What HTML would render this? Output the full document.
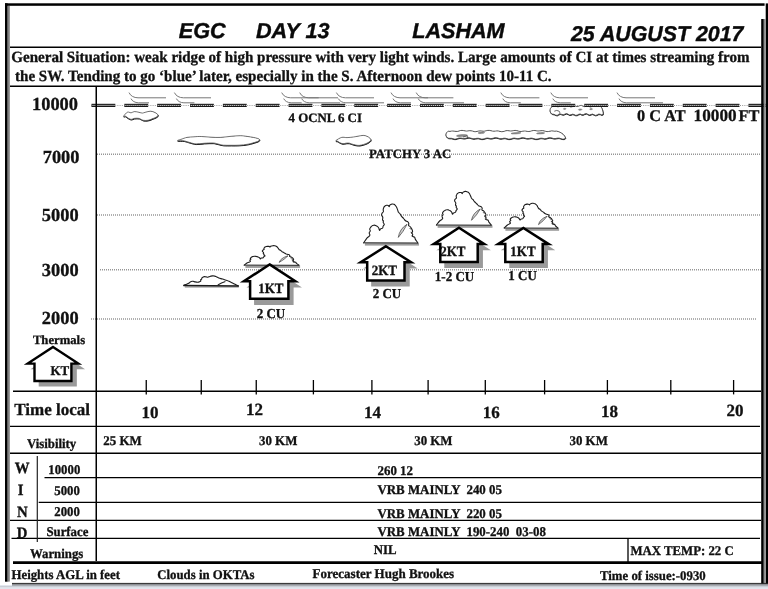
<!DOCTYPE html>
<html><head><meta charset="utf-8"><title>EGC Day 13 Lasham</title>
<style>
html,body{margin:0;padding:0;background:#fff;}
body{width:768px;height:589px;overflow:hidden;}
svg{display:block;}
text{text-rendering:geometricPrecision;}
.s{font-family:"Liberation Serif", serif;font-weight:bold;fill:#111;stroke:#111;stroke-width:0.3;}
.t{font-family:"Liberation Sans", sans-serif;font-weight:bold;font-style:italic;fill:#0a0a0a;stroke:#0a0a0a;stroke-width:0.4;}
.ci{fill:none;stroke:#777;stroke-width:1;}
.blob{fill:#fff;stroke:#222;stroke-width:1;stroke-linejoin:round;}
.blob2{fill:#fff;stroke:#333;stroke-width:0.9;stroke-linejoin:round;}
</style></head><body>
<svg width="768" height="589" viewBox="0 0 768 589">
<rect x="0" y="585" width="768" height="4" fill="#e2e6ee"/>
<line x1="97" y1="154.2" x2="761" y2="154.2" stroke="#969696" stroke-width="1.5" stroke-dasharray="1 1"/>
<line x1="97" y1="214.9" x2="761" y2="214.9" stroke="#969696" stroke-width="1.5" stroke-dasharray="1 1"/>
<line x1="100" y1="269.8" x2="761" y2="269.8" stroke="#969696" stroke-width="1.5" stroke-dasharray="1 1"/>
<line x1="91" y1="319" x2="757" y2="319" stroke="#969696" stroke-width="1.5" stroke-dasharray="1 1"/>
<path d="M129,92.6 C130.5,96 134,97.8 138,97.8 L166,97.8" class="ci"/>
<path d="M131,98.6 C132,101 135,102.8 138.5,102.8 L149,102.8" class="ci"/>
<path d="M174.4,92.6 C175.9,96 179.4,97.8 183.4,97.8 L211,97.8" class="ci"/>
<path d="M176.4,98.6 C177.4,101 180.4,102.8 183.9,102.8 L194.4,102.8" class="ci"/>
<path d="M281.7,92.6 C283.2,96 286.7,97.8 290.7,97.8 L318.7,97.8" class="ci"/>
<path d="M283.7,98.6 C284.7,101 287.7,102.8 291.2,102.8 L301.7,102.8" class="ci"/>
<path d="M299.7,92.6 C301.2,96 304.7,97.8 308.7,97.8 L338,97.8" class="ci"/>
<path d="M301.7,98.6 C302.7,101 305.7,102.8 309.2,102.8 L340,102.8" class="ci"/>
<path d="M336.4,92.6 C337.9,96 341.4,97.8 345.4,97.8 L374,97.8" class="ci"/>
<path d="M338.4,98.6 C339.4,101 342.4,102.8 345.9,102.8 L384,102.8" class="ci"/>
<path d="M391,92.6 C392.5,96 396,97.8 400,97.8 L428,97.8" class="ci"/>
<path d="M393,98.6 C394,101 397,102.8 400.5,102.8 L411,102.8" class="ci"/>
<path d="M416.2,92.6 C417.7,96 421.2,97.8 425.2,97.8 L453.4,97.8" class="ci"/>
<path d="M418.2,98.6 C419.2,101 422.2,102.8 425.7,102.8 L464,102.8" class="ci"/>
<path d="M500.8,92.6 C502.3,96 505.8,97.8 509.8,97.8 L539.4,97.8" class="ci"/>
<path d="M502.8,98.6 C503.8,101 506.8,102.8 510.3,102.8 L520.8,102.8" class="ci"/>
<path d="M550.8,92.6 C552.3,96 555.8,97.8 559.8,97.8 L588,97.8" class="ci"/>
<path d="M552.8,98.6 C553.8,101 556.8,102.8 560.3,102.8 L570.8,102.8" class="ci"/>
<path d="M617,92.6 C618.5,96 622,97.8 626,97.8 L655,97.8" class="ci"/>
<path d="M619,98.6 C620,101 623,102.8 626.5,102.8 L663,102.8" class="ci"/>
<path d="M123.6,116.2 C123.9,115.5 126.1,112.8 127.4,112.2 C128.8,111.6 129.9,112.9 131.1,112.8 C132.3,112.7 132.9,111.7 134.2,111.6 C135.6,111.5 137.1,111.9 138.6,112.2 C140.1,112.5 141.2,113.1 142.4,113.1 C143.6,113.1 144.0,112.5 145.5,112.2 C147.0,111.9 148.8,111.2 150.5,111.2 C152.2,111.3 153.6,111.8 154.9,112.5 C156.2,113.2 157.8,114.2 158.0,115.0 C158.2,115.8 157.2,116.5 156.1,117.2 C155.0,117.9 153.2,118.4 151.8,119.0 C150.3,119.6 149.6,120.1 148.0,120.3 C146.4,120.5 144.6,120.6 143.0,120.3 C141.4,120.0 140.8,118.7 139.2,118.4 C137.7,118.1 135.7,118.2 134.2,118.4 C132.8,118.6 132.2,119.5 131.1,119.4 C130.0,119.3 129.0,118.7 128.0,118.1 C127.0,117.5 126.3,116.6 125.5,116.2 C124.7,115.9 123.3,117.0 123.6,116.2 Z" fill="#111" stroke="#111" stroke-width="1" transform="translate(0.3,0.65)"/>
<path d="M123.6,116.2 C123.9,115.5 126.1,112.8 127.4,112.2 C128.8,111.6 129.9,112.9 131.1,112.8 C132.3,112.7 132.9,111.7 134.2,111.6 C135.6,111.5 137.1,111.9 138.6,112.2 C140.1,112.5 141.2,113.1 142.4,113.1 C143.6,113.1 144.0,112.5 145.5,112.2 C147.0,111.9 148.8,111.2 150.5,111.2 C152.2,111.3 153.6,111.8 154.9,112.5 C156.2,113.2 157.8,114.2 158.0,115.0 C158.2,115.8 157.2,116.5 156.1,117.2 C155.0,117.9 153.2,118.4 151.8,119.0 C150.3,119.6 149.6,120.1 148.0,120.3 C146.4,120.5 144.6,120.6 143.0,120.3 C141.4,120.0 140.8,118.7 139.2,118.4 C137.7,118.1 135.7,118.2 134.2,118.4 C132.8,118.6 132.2,119.5 131.1,119.4 C130.0,119.3 129.0,118.7 128.0,118.1 C127.0,117.5 126.3,116.6 125.5,116.2 C124.7,115.9 123.3,117.0 123.6,116.2 Z" fill="#fff" stroke="#555" stroke-width="0.8" stroke-linejoin="round"/>
<path d="M335.9,140.6 C336.6,139.9 339.7,137.9 341.7,137.4 C343.7,136.9 344.9,137.7 347.0,137.6 C349.1,137.5 351.4,137.3 353.4,137.0 C355.4,136.7 356.2,136.5 358.0,136.2 C359.8,135.9 361.6,135.4 363.2,135.4 C364.8,135.4 365.8,135.8 367.0,136.3 C368.2,136.8 369.0,137.3 369.7,138.0 C370.4,138.7 371.0,139.4 370.8,140.2 C370.6,141.0 369.6,141.6 368.6,142.3 C367.6,143.0 366.5,143.4 365.2,143.9 C363.9,144.4 362.8,144.7 361.5,145.0 C360.2,145.3 359.4,145.5 358.0,145.4 C356.6,145.3 355.0,145.0 353.5,144.6 C352.0,144.2 350.9,143.5 349.5,143.2 C348.1,142.9 347.2,143.1 346.0,143.2 C344.8,143.3 344.1,143.8 343.0,143.7 C341.9,143.6 340.9,143.2 340.0,142.8 C339.1,142.4 338.5,141.7 337.8,141.3 C337.1,140.9 335.2,141.3 335.9,140.6 Z" fill="#111" stroke="#111" stroke-width="1" transform="translate(0.3,0.65)"/>
<path d="M335.9,140.6 C336.6,139.9 339.7,137.9 341.7,137.4 C343.7,136.9 344.9,137.7 347.0,137.6 C349.1,137.5 351.4,137.3 353.4,137.0 C355.4,136.7 356.2,136.5 358.0,136.2 C359.8,135.9 361.6,135.4 363.2,135.4 C364.8,135.4 365.8,135.8 367.0,136.3 C368.2,136.8 369.0,137.3 369.7,138.0 C370.4,138.7 371.0,139.4 370.8,140.2 C370.6,141.0 369.6,141.6 368.6,142.3 C367.6,143.0 366.5,143.4 365.2,143.9 C363.9,144.4 362.8,144.7 361.5,145.0 C360.2,145.3 359.4,145.5 358.0,145.4 C356.6,145.3 355.0,145.0 353.5,144.6 C352.0,144.2 350.9,143.5 349.5,143.2 C348.1,142.9 347.2,143.1 346.0,143.2 C344.8,143.3 344.1,143.8 343.0,143.7 C341.9,143.6 340.9,143.2 340.0,142.8 C339.1,142.4 338.5,141.7 337.8,141.3 C337.1,140.9 335.2,141.3 335.9,140.6 Z" fill="#fff" stroke="#555" stroke-width="0.8" stroke-linejoin="round"/>
<path d="M177.5,140.6 C177.1,140.3 180.3,139.6 182.0,139.0 C183.7,138.4 184.8,137.8 187.0,137.4 C189.2,137.0 191.4,137.0 194.0,136.8 C196.6,136.6 198.2,136.4 201.3,136.5 C204.4,136.6 207.5,137.0 211.0,137.2 C214.5,137.4 217.2,137.6 220.8,137.4 C224.4,137.2 227.5,136.6 231.0,136.3 C234.5,136.0 237.4,135.7 240.3,135.7 C243.2,135.7 244.7,136.1 247.0,136.4 C249.3,136.7 251.4,137.0 253.3,137.4 C255.2,137.8 256.4,138.0 257.5,138.4 C258.6,138.8 259.4,139.1 259.6,139.6 C259.8,140.1 259.0,140.6 258.4,141.0 C257.8,141.4 257.9,141.4 256.0,142.0 C254.1,142.6 251.1,143.6 248.0,144.2 C244.9,144.8 242.1,145.0 239.0,145.2 C235.9,145.4 233.8,145.3 231.0,145.3 C228.2,145.3 225.7,145.4 223.4,145.2 C221.1,145.0 219.9,144.4 218.0,144.0 C216.1,143.6 215.5,143.1 213.0,143.0 C210.5,142.9 207.1,143.1 204.0,143.3 C200.9,143.5 198.5,144.0 196.0,143.9 C193.5,143.8 192.1,143.1 190.0,142.6 C187.9,142.1 186.6,141.3 184.3,140.9 C182.1,140.5 177.9,140.9 177.5,140.6 Z" fill="#111" stroke="#111" stroke-width="1" transform="translate(0.3,0.65)"/>
<path d="M177.5,140.6 C177.1,140.3 180.3,139.6 182.0,139.0 C183.7,138.4 184.8,137.8 187.0,137.4 C189.2,137.0 191.4,137.0 194.0,136.8 C196.6,136.6 198.2,136.4 201.3,136.5 C204.4,136.6 207.5,137.0 211.0,137.2 C214.5,137.4 217.2,137.6 220.8,137.4 C224.4,137.2 227.5,136.6 231.0,136.3 C234.5,136.0 237.4,135.7 240.3,135.7 C243.2,135.7 244.7,136.1 247.0,136.4 C249.3,136.7 251.4,137.0 253.3,137.4 C255.2,137.8 256.4,138.0 257.5,138.4 C258.6,138.8 259.4,139.1 259.6,139.6 C259.8,140.1 259.0,140.6 258.4,141.0 C257.8,141.4 257.9,141.4 256.0,142.0 C254.1,142.6 251.1,143.6 248.0,144.2 C244.9,144.8 242.1,145.0 239.0,145.2 C235.9,145.4 233.8,145.3 231.0,145.3 C228.2,145.3 225.7,145.4 223.4,145.2 C221.1,145.0 219.9,144.4 218.0,144.0 C216.1,143.6 215.5,143.1 213.0,143.0 C210.5,142.9 207.1,143.1 204.0,143.3 C200.9,143.5 198.5,144.0 196.0,143.9 C193.5,143.8 192.1,143.1 190.0,142.6 C187.9,142.1 186.6,141.3 184.3,140.9 C182.1,140.5 177.9,140.9 177.5,140.6 Z" fill="#fff" stroke="#555" stroke-width="0.8" stroke-linejoin="round"/>
<path d="M449.9,131.4 L451.4,131.1 L452.9,131.0 L454.5,131.2 L456.0,131.4 L457.5,131.4 L459.0,131.0 L460.5,130.5 L462.0,130.4 L463.6,130.6 L465.1,130.9 L466.6,131.1 L468.1,130.9 L469.6,130.7 L471.1,130.8 L472.7,131.1 L474.2,131.6 L475.7,131.7 L477.2,131.4 L478.7,131.0 L480.2,130.9 L481.8,131.0 L483.3,131.2 L484.8,131.1 L486.3,130.7 L487.8,130.4 L489.4,130.4 L490.9,130.7 L492.4,131.1 L493.9,131.2 L495.4,131.1 L496.9,130.9 L498.5,131.0 L500.0,131.4 L501.5,131.7 L503.0,131.6 L504.5,131.2 L506.0,130.7 L507.6,130.6 L509.1,130.8 L510.6,131.0 L512.1,130.9 L513.6,130.6 L515.1,130.4 L516.7,130.6 L518.2,131.0 L519.7,131.4 L521.2,131.5 L522.7,131.2 L524.3,131.0 L525.8,131.1 L527.3,131.4 L528.8,131.5 L530.3,131.3 L531.8,130.8 L533.4,130.5 L534.9,130.5 L536.4,130.8 L537.9,131.0 L539.4,130.9 L540.9,130.7 L542.5,130.6 L544.0,130.9 L545.5,131.3 L547.0,131.6 L548.5,131.5 L550.0,131.2 L551.6,130.9 L553.1,131.0 L554.6,131.2 L556.5,131.1 L558.4,131.6 L560.1,132.3 L561.7,133.2 L563.0,134.2 L564.1,135.4 L564.9,136.6 L565.4,137.6 L565.6,138.1 L564.1,139.1 L562.6,139.1 L561.1,138.7 L559.6,138.2 L558.1,138.1 L556.6,138.3 L555.1,138.6 L553.6,138.5 L552.1,138.1 L550.6,137.7 L549.1,137.7 L547.6,138.1 L546.1,138.6 L544.6,138.7 L543.1,138.4 L541.6,138.2 L540.1,138.3 L538.6,138.7 L537.1,139.1 L535.5,139.1 L534.0,138.7 L532.5,138.3 L531.0,138.1 L529.5,138.4 L528.0,138.6 L526.5,138.5 L525.0,138.1 L523.5,137.7 L522.0,137.7 L520.5,138.1 L519.0,138.5 L517.5,138.6 L516.0,138.4 L514.5,138.1 L513.0,138.2 L511.5,138.7 L510.0,139.1 L508.5,139.1 L507.0,138.7 L505.5,138.3 L504.0,138.2 L502.5,138.5 L501.0,138.7 L499.5,138.6 L498.0,138.1 L496.5,137.7 L495.0,137.7 L493.5,138.1 L492.0,138.5 L490.5,138.6 L489.0,138.3 L487.5,138.0 L486.0,138.2 L484.5,138.7 L483.0,139.1 L481.5,139.1 L480.0,138.7 L478.4,138.3 L476.9,138.3 L475.4,138.6 L473.9,138.8 L472.4,138.6 L470.9,138.2 L469.4,137.7 L467.9,137.7 L466.4,138.1 L464.9,138.5 L463.4,138.5 L461.9,138.2 L460.4,138.0 L458.9,138.1 L457.4,138.6 L455.9,139.1 L454.4,139.1 L452.9,138.7 L451.4,138.3 L449.9,138.3 L448.5,138.2 L447.3,137.5 L446.4,136.5 L446.0,135.3 L446.0,134.1 L446.4,132.8 L447.3,131.9 L448.5,131.2 Z" fill="#111" stroke="#111" stroke-width="0.9" transform="translate(0.2,0.5)" stroke-linejoin="round"/>
<path d="M449.9,131.4 L451.4,131.1 L452.9,131.0 L454.5,131.2 L456.0,131.4 L457.5,131.4 L459.0,131.0 L460.5,130.5 L462.0,130.4 L463.6,130.6 L465.1,130.9 L466.6,131.1 L468.1,130.9 L469.6,130.7 L471.1,130.8 L472.7,131.1 L474.2,131.6 L475.7,131.7 L477.2,131.4 L478.7,131.0 L480.2,130.9 L481.8,131.0 L483.3,131.2 L484.8,131.1 L486.3,130.7 L487.8,130.4 L489.4,130.4 L490.9,130.7 L492.4,131.1 L493.9,131.2 L495.4,131.1 L496.9,130.9 L498.5,131.0 L500.0,131.4 L501.5,131.7 L503.0,131.6 L504.5,131.2 L506.0,130.7 L507.6,130.6 L509.1,130.8 L510.6,131.0 L512.1,130.9 L513.6,130.6 L515.1,130.4 L516.7,130.6 L518.2,131.0 L519.7,131.4 L521.2,131.5 L522.7,131.2 L524.3,131.0 L525.8,131.1 L527.3,131.4 L528.8,131.5 L530.3,131.3 L531.8,130.8 L533.4,130.5 L534.9,130.5 L536.4,130.8 L537.9,131.0 L539.4,130.9 L540.9,130.7 L542.5,130.6 L544.0,130.9 L545.5,131.3 L547.0,131.6 L548.5,131.5 L550.0,131.2 L551.6,130.9 L553.1,131.0 L554.6,131.2 L556.5,131.1 L558.4,131.6 L560.1,132.3 L561.7,133.2 L563.0,134.2 L564.1,135.4 L564.9,136.6 L565.4,137.6 L565.6,138.1 L564.1,139.1 L562.6,139.1 L561.1,138.7 L559.6,138.2 L558.1,138.1 L556.6,138.3 L555.1,138.6 L553.6,138.5 L552.1,138.1 L550.6,137.7 L549.1,137.7 L547.6,138.1 L546.1,138.6 L544.6,138.7 L543.1,138.4 L541.6,138.2 L540.1,138.3 L538.6,138.7 L537.1,139.1 L535.5,139.1 L534.0,138.7 L532.5,138.3 L531.0,138.1 L529.5,138.4 L528.0,138.6 L526.5,138.5 L525.0,138.1 L523.5,137.7 L522.0,137.7 L520.5,138.1 L519.0,138.5 L517.5,138.6 L516.0,138.4 L514.5,138.1 L513.0,138.2 L511.5,138.7 L510.0,139.1 L508.5,139.1 L507.0,138.7 L505.5,138.3 L504.0,138.2 L502.5,138.5 L501.0,138.7 L499.5,138.6 L498.0,138.1 L496.5,137.7 L495.0,137.7 L493.5,138.1 L492.0,138.5 L490.5,138.6 L489.0,138.3 L487.5,138.0 L486.0,138.2 L484.5,138.7 L483.0,139.1 L481.5,139.1 L480.0,138.7 L478.4,138.3 L476.9,138.3 L475.4,138.6 L473.9,138.8 L472.4,138.6 L470.9,138.2 L469.4,137.7 L467.9,137.7 L466.4,138.1 L464.9,138.5 L463.4,138.5 L461.9,138.2 L460.4,138.0 L458.9,138.1 L457.4,138.6 L455.9,139.1 L454.4,139.1 L452.9,138.7 L451.4,138.3 L449.9,138.3 L448.5,138.2 L447.3,137.5 L446.4,136.5 L446.0,135.3 L446.0,134.1 L446.4,132.8 L447.3,131.9 L448.5,131.2 Z" fill="#fff" stroke="#444" stroke-width="0.85" stroke-linejoin="round"/>
<ellipse cx="461.9" cy="135.6" rx="5.5" ry="1.0" fill="#8a8a8a" stroke="#666" stroke-width="0.4" transform="rotate(-4 461.9 135.6)"/>
<ellipse cx="481.4" cy="132.8" rx="3.3" ry="0.8" fill="#8a8a8a" stroke="#666" stroke-width="0.4" transform="rotate(-4 481.4 132.8)"/>
<ellipse cx="516.0" cy="133.2" rx="5.0" ry="0.8" fill="#8a8a8a" stroke="#666" stroke-width="0.4" transform="rotate(-4 516.0 133.2)"/>
<ellipse cx="540.6" cy="133.2" rx="4.1" ry="0.8" fill="#8a8a8a" stroke="#666" stroke-width="0.4" transform="rotate(-4 540.6 133.2)"/>
<path d="M463,137 q3,-0.5 4.3,-1.3 q1.2,1.2 -0.5,2.6" fill="none" stroke="#444" stroke-width="0.8"/>
<path d="M554.0,106.2 L555.5,106.1 L557.1,106.7 L558.6,106.7 L560.1,105.9 L561.6,105.4 L563.2,105.9 L564.7,106.4 L566.2,106.1 L567.7,105.7 L569.3,106.3 L570.8,107.0 L572.3,106.7 L573.8,106.0 L575.4,106.0 L576.9,106.5 L578.4,106.3 L580.0,105.5 L581.5,105.4 L583.0,106.2 L584.5,106.6 L586.1,106.2 L587.6,106.0 L589.1,106.6 L590.6,107.0 L592.2,106.4 L593.7,105.7 L595.2,105.9 L596.7,106.4 L598.3,106.1 L599.8,105.5 L600.4,106.4 L601.0,106.8 L601.5,107.6 L602.0,108.6 L602.5,109.8 L602.8,111.1 L603.1,112.4 L603.2,113.6 L603.3,114.2 L601.8,114.9 L600.3,114.3 L598.7,114.1 L597.2,114.9 L595.6,115.4 L594.1,114.8 L592.5,114.1 L591.0,114.5 L589.5,115.0 L587.9,114.4 L586.4,113.6 L584.8,113.9 L583.3,114.7 L581.8,114.7 L580.2,114.0 L578.7,114.3 L577.1,115.2 L575.6,115.3 L574.0,114.5 L572.5,114.2 L571.0,114.8 L569.4,115.0 L567.9,114.1 L566.3,113.6 L564.8,114.2 L563.3,114.8 L561.7,114.4 L560.2,113.9 L558.6,114.5 L557.1,115.4 L555.5,115.1 L554.0,114.3 L552.6,114.2 L551.4,113.5 L550.5,112.4 L550.1,111.1 L550.1,109.6 L550.5,108.3 L551.4,107.2 L552.6,106.5 Z" fill="#111" stroke="#111" stroke-width="0.9" transform="translate(0.2,0.5)" stroke-linejoin="round"/>
<path d="M554.0,106.2 L555.5,106.1 L557.1,106.7 L558.6,106.7 L560.1,105.9 L561.6,105.4 L563.2,105.9 L564.7,106.4 L566.2,106.1 L567.7,105.7 L569.3,106.3 L570.8,107.0 L572.3,106.7 L573.8,106.0 L575.4,106.0 L576.9,106.5 L578.4,106.3 L580.0,105.5 L581.5,105.4 L583.0,106.2 L584.5,106.6 L586.1,106.2 L587.6,106.0 L589.1,106.6 L590.6,107.0 L592.2,106.4 L593.7,105.7 L595.2,105.9 L596.7,106.4 L598.3,106.1 L599.8,105.5 L600.4,106.4 L601.0,106.8 L601.5,107.6 L602.0,108.6 L602.5,109.8 L602.8,111.1 L603.1,112.4 L603.2,113.6 L603.3,114.2 L601.8,114.9 L600.3,114.3 L598.7,114.1 L597.2,114.9 L595.6,115.4 L594.1,114.8 L592.5,114.1 L591.0,114.5 L589.5,115.0 L587.9,114.4 L586.4,113.6 L584.8,113.9 L583.3,114.7 L581.8,114.7 L580.2,114.0 L578.7,114.3 L577.1,115.2 L575.6,115.3 L574.0,114.5 L572.5,114.2 L571.0,114.8 L569.4,115.0 L567.9,114.1 L566.3,113.6 L564.8,114.2 L563.3,114.8 L561.7,114.4 L560.2,113.9 L558.6,114.5 L557.1,115.4 L555.5,115.1 L554.0,114.3 L552.6,114.2 L551.4,113.5 L550.5,112.4 L550.1,111.1 L550.1,109.6 L550.5,108.3 L551.4,107.2 L552.6,106.5 Z" fill="#fff" stroke="#444" stroke-width="0.85" stroke-linejoin="round"/>
<path d="M554.3,111.2 q2.4,-1.4 4.6,-0.2 q1.6,1.2 0.4,2.6" fill="none" stroke="#444" stroke-width="0.8"/>
<ellipse cx="564.7" cy="108.8" rx="1.3" ry="0.6" fill="#8a8a8a" stroke="#666" stroke-width="0.4" transform="rotate(-4 564.7 108.8)"/>
<ellipse cx="580.2" cy="109.6" rx="1.8" ry="0.7" fill="#8a8a8a" stroke="#666" stroke-width="0.4" transform="rotate(-4 580.2 109.6)"/>
<ellipse cx="591.1" cy="109.1" rx="1.5" ry="0.6" fill="#8a8a8a" stroke="#666" stroke-width="0.4" transform="rotate(-4 591.1 109.1)"/>
<line x1="91" y1="105.5" x2="768" y2="105.5" stroke="#999" stroke-width="1" stroke-dasharray="1 1.2"/>
<rect x="91.5" y="104" width="23.8" height="3.0" fill="#ddd"/>
<rect x="91.5" y="103.8" width="23.8" height="1.1" fill="#161616"/>
<rect x="91.5" y="105.9" width="23.8" height="1.1" fill="#161616"/>
<line x1="91.5" y1="105.45" x2="115.3" y2="105.45" stroke="#444" stroke-width="1.0" stroke-dasharray="1 1"/>
<rect x="124.35" y="104" width="23.8" height="3.0" fill="#ddd"/>
<rect x="124.35" y="103.8" width="23.8" height="1.1" fill="#161616"/>
<rect x="124.35" y="105.9" width="23.8" height="1.1" fill="#161616"/>
<line x1="124.35" y1="105.45" x2="148.15" y2="105.45" stroke="#444" stroke-width="1.0" stroke-dasharray="1 1"/>
<rect x="157.2" y="104" width="23.8" height="3.0" fill="#ddd"/>
<rect x="157.2" y="103.8" width="23.8" height="1.1" fill="#161616"/>
<rect x="157.2" y="105.9" width="23.8" height="1.1" fill="#161616"/>
<line x1="157.2" y1="105.45" x2="181.0" y2="105.45" stroke="#444" stroke-width="1.0" stroke-dasharray="1 1"/>
<rect x="190.05" y="104" width="23.8" height="3.0" fill="#ddd"/>
<rect x="190.05" y="103.8" width="23.8" height="1.1" fill="#161616"/>
<rect x="190.05" y="105.9" width="23.8" height="1.1" fill="#161616"/>
<line x1="190.05" y1="105.45" x2="213.85" y2="105.45" stroke="#444" stroke-width="1.0" stroke-dasharray="1 1"/>
<rect x="222.9" y="104" width="23.8" height="3.0" fill="#ddd"/>
<rect x="222.9" y="103.8" width="23.8" height="1.1" fill="#161616"/>
<rect x="222.9" y="105.9" width="23.8" height="1.1" fill="#161616"/>
<line x1="222.9" y1="105.45" x2="246.7" y2="105.45" stroke="#444" stroke-width="1.0" stroke-dasharray="1 1"/>
<rect x="255.75" y="104" width="23.8" height="3.0" fill="#ddd"/>
<rect x="255.75" y="103.8" width="23.8" height="1.1" fill="#161616"/>
<rect x="255.75" y="105.9" width="23.8" height="1.1" fill="#161616"/>
<line x1="255.75" y1="105.45" x2="279.55" y2="105.45" stroke="#444" stroke-width="1.0" stroke-dasharray="1 1"/>
<rect x="288.6" y="104" width="23.8" height="3.0" fill="#ddd"/>
<rect x="288.6" y="103.8" width="23.8" height="1.1" fill="#161616"/>
<rect x="288.6" y="105.9" width="23.8" height="1.1" fill="#161616"/>
<line x1="288.6" y1="105.45" x2="312.4" y2="105.45" stroke="#444" stroke-width="1.0" stroke-dasharray="1 1"/>
<rect x="321.45" y="104" width="23.8" height="3.0" fill="#ddd"/>
<rect x="321.45" y="103.8" width="23.8" height="1.1" fill="#161616"/>
<rect x="321.45" y="105.9" width="23.8" height="1.1" fill="#161616"/>
<line x1="321.45" y1="105.45" x2="345.25" y2="105.45" stroke="#444" stroke-width="1.0" stroke-dasharray="1 1"/>
<rect x="354.3" y="104" width="23.8" height="3.0" fill="#ddd"/>
<rect x="354.3" y="103.8" width="23.8" height="1.1" fill="#161616"/>
<rect x="354.3" y="105.9" width="23.8" height="1.1" fill="#161616"/>
<line x1="354.3" y1="105.45" x2="378.1" y2="105.45" stroke="#444" stroke-width="1.0" stroke-dasharray="1 1"/>
<rect x="387.15" y="104" width="23.8" height="3.0" fill="#ddd"/>
<rect x="387.15" y="103.8" width="23.8" height="1.1" fill="#161616"/>
<rect x="387.15" y="105.9" width="23.8" height="1.1" fill="#161616"/>
<line x1="387.15" y1="105.45" x2="410.95" y2="105.45" stroke="#444" stroke-width="1.0" stroke-dasharray="1 1"/>
<rect x="420.0" y="104" width="23.8" height="3.0" fill="#ddd"/>
<rect x="420.0" y="103.8" width="23.8" height="1.1" fill="#161616"/>
<rect x="420.0" y="105.9" width="23.8" height="1.1" fill="#161616"/>
<line x1="420.0" y1="105.45" x2="443.8" y2="105.45" stroke="#444" stroke-width="1.0" stroke-dasharray="1 1"/>
<rect x="452.85" y="104" width="23.8" height="3.0" fill="#ddd"/>
<rect x="452.85" y="103.8" width="23.8" height="1.1" fill="#161616"/>
<rect x="452.85" y="105.9" width="23.8" height="1.1" fill="#161616"/>
<line x1="452.85" y1="105.45" x2="476.65" y2="105.45" stroke="#444" stroke-width="1.0" stroke-dasharray="1 1"/>
<rect x="485.7" y="104" width="23.8" height="3.0" fill="#ddd"/>
<rect x="485.7" y="103.8" width="23.8" height="1.1" fill="#161616"/>
<rect x="485.7" y="105.9" width="23.8" height="1.1" fill="#161616"/>
<line x1="485.7" y1="105.45" x2="509.5" y2="105.45" stroke="#444" stroke-width="1.0" stroke-dasharray="1 1"/>
<rect x="518.55" y="104" width="23.8" height="3.0" fill="#ddd"/>
<rect x="518.55" y="103.8" width="23.8" height="1.1" fill="#161616"/>
<rect x="518.55" y="105.9" width="23.8" height="1.1" fill="#161616"/>
<line x1="518.55" y1="105.45" x2="542.35" y2="105.45" stroke="#444" stroke-width="1.0" stroke-dasharray="1 1"/>
<rect x="551.4" y="104" width="23.8" height="3.0" fill="#ddd"/>
<rect x="551.4" y="103.8" width="23.8" height="1.1" fill="#161616"/>
<rect x="551.4" y="105.9" width="23.8" height="1.1" fill="#161616"/>
<line x1="551.4" y1="105.45" x2="575.2" y2="105.45" stroke="#444" stroke-width="1.0" stroke-dasharray="1 1"/>
<rect x="584.25" y="104" width="23.8" height="3.0" fill="#ddd"/>
<rect x="584.25" y="103.8" width="23.8" height="1.1" fill="#161616"/>
<rect x="584.25" y="105.9" width="23.8" height="1.1" fill="#161616"/>
<line x1="584.25" y1="105.45" x2="608.05" y2="105.45" stroke="#444" stroke-width="1.0" stroke-dasharray="1 1"/>
<rect x="617.1" y="104" width="23.8" height="3.0" fill="#ddd"/>
<rect x="617.1" y="103.8" width="23.8" height="1.1" fill="#161616"/>
<rect x="617.1" y="105.9" width="23.8" height="1.1" fill="#161616"/>
<line x1="617.1" y1="105.45" x2="640.9" y2="105.45" stroke="#444" stroke-width="1.0" stroke-dasharray="1 1"/>
<rect x="649.95" y="104" width="23.8" height="3.0" fill="#ddd"/>
<rect x="649.95" y="103.8" width="23.8" height="1.1" fill="#161616"/>
<rect x="649.95" y="105.9" width="23.8" height="1.1" fill="#161616"/>
<line x1="649.95" y1="105.45" x2="673.75" y2="105.45" stroke="#444" stroke-width="1.0" stroke-dasharray="1 1"/>
<rect x="682.8" y="104" width="23.8" height="3.0" fill="#ddd"/>
<rect x="682.8" y="103.8" width="23.8" height="1.1" fill="#161616"/>
<rect x="682.8" y="105.9" width="23.8" height="1.1" fill="#161616"/>
<line x1="682.8" y1="105.45" x2="706.6" y2="105.45" stroke="#444" stroke-width="1.0" stroke-dasharray="1 1"/>
<rect x="715.65" y="104" width="23.8" height="3.0" fill="#ddd"/>
<rect x="715.65" y="103.8" width="23.8" height="1.1" fill="#161616"/>
<rect x="715.65" y="105.9" width="23.8" height="1.1" fill="#161616"/>
<line x1="715.65" y1="105.45" x2="739.45" y2="105.45" stroke="#444" stroke-width="1.0" stroke-dasharray="1 1"/>
<rect x="748.5" y="104" width="19.5" height="3.0" fill="#ddd"/>
<rect x="748.5" y="103.8" width="19.5" height="1.1" fill="#161616"/>
<rect x="748.5" y="105.9" width="19.5" height="1.1" fill="#161616"/>
<line x1="748.5" y1="105.45" x2="768" y2="105.45" stroke="#444" stroke-width="1.0" stroke-dasharray="1 1"/>
<rect x="245.4" y="265.4" width="54.7" height="2.5" fill="#9c9c9c"/>
<path d="M244.2,265.1 C244.8,264.7 246.5,263.3 247.4,262.8 C248.4,262.2 249.0,262.2 249.6,261.9 C250.1,261.6 250.4,261.5 250.5,261.2 C250.5,260.8 249.7,260.5 249.8,260.1 C249.8,259.8 250.8,259.5 250.9,259.1 C251.0,258.8 250.2,258.6 250.3,258.2 C250.4,257.9 251.0,257.5 251.4,257.2 C251.8,257.0 252.0,256.8 252.6,256.6 C253.1,256.5 253.8,256.3 254.4,256.3 C255.1,256.3 255.6,256.3 256.2,256.4 C256.9,256.5 257.5,256.7 258.1,256.9 C258.6,257.1 259.1,257.5 259.5,257.7 C259.8,258.0 259.7,258.2 259.9,258.4 C260.0,258.6 260.1,258.9 260.4,258.9 C260.6,258.8 260.8,258.3 261.3,258.1 C261.8,257.9 262.7,258.0 263.2,257.7 C263.7,257.5 263.6,257.0 263.9,256.6 C264.2,256.3 265.0,256.3 265.0,255.9 C265.0,255.6 264.1,255.2 263.9,254.9 C263.8,254.6 264.2,254.4 264.1,254.2 C264.0,253.9 263.3,254.0 263.2,253.7 C263.1,253.3 263.7,252.9 263.5,252.4 C263.3,252.0 262.4,251.6 262.3,251.2 C262.2,250.8 262.6,250.5 262.9,250.2 C263.2,249.9 263.9,249.8 264.1,249.5 C264.3,249.2 263.8,248.8 263.9,248.4 C264.0,248.0 264.3,247.6 264.6,247.3 C265.0,247.0 265.2,246.9 265.7,246.7 C266.2,246.5 266.8,246.4 267.4,246.3 C267.9,246.3 268.5,246.3 269.0,246.4 C269.4,246.5 269.7,247.0 270.0,247.0 C270.3,247.0 270.1,246.5 270.6,246.3 C271.1,246.1 272.2,245.8 272.9,245.7 C273.7,245.6 274.3,245.7 274.8,245.8 C275.4,246.0 275.7,246.1 276.2,246.3 C276.6,246.6 277.0,246.9 277.5,247.3 C277.9,247.7 278.1,248.2 278.5,248.6 C278.8,249.1 278.9,249.4 279.3,249.8 C279.7,250.1 280.3,250.1 280.8,250.5 C281.3,250.8 281.4,251.2 282.1,251.7 C282.8,252.1 283.8,252.6 284.5,253.0 C285.3,253.4 285.4,253.7 286.2,254.0 C286.9,254.2 288.0,254.3 288.7,254.6 C289.3,254.8 289.6,255.1 289.8,255.4 C290.0,255.8 289.3,256.1 289.6,256.4 C289.9,256.7 290.8,256.8 291.4,257.1 C292.0,257.5 292.4,257.8 292.8,258.2 C293.2,258.6 293.7,259.0 293.6,259.4 C293.6,259.7 292.6,259.8 292.6,260.1 C292.6,260.4 293.6,260.7 293.7,261.0 C293.9,261.3 293.1,261.6 293.4,261.8 C293.8,262.1 295.1,262.0 295.7,262.3 C296.2,262.6 295.9,262.9 296.5,263.4 C297.1,263.9 298.5,264.8 298.9,265.1 Z" fill="#fff" stroke="none"/>
<path d="M244.2,265.1 C244.8,264.7 246.5,263.3 247.4,262.8 C248.4,262.2 249.0,262.2 249.6,261.9 C250.1,261.6 250.4,261.5 250.5,261.2 C250.5,260.8 249.7,260.5 249.8,260.1 C249.8,259.8 250.8,259.5 250.9,259.1 C251.0,258.8 250.2,258.6 250.3,258.2 C250.4,257.9 251.0,257.5 251.4,257.2 C251.8,257.0 252.0,256.8 252.6,256.6 C253.1,256.5 253.8,256.3 254.4,256.3 C255.1,256.3 255.6,256.3 256.2,256.4 C256.9,256.5 257.5,256.7 258.1,256.9 C258.6,257.1 259.1,257.5 259.5,257.7 C259.8,258.0 259.7,258.2 259.9,258.4 C260.0,258.6 260.1,258.9 260.4,258.9 C260.6,258.8 260.8,258.3 261.3,258.1 C261.8,257.9 262.7,258.0 263.2,257.7 C263.7,257.5 263.6,257.0 263.9,256.6 C264.2,256.3 265.0,256.3 265.0,255.9 C265.0,255.6 264.1,255.2 263.9,254.9 C263.8,254.6 264.2,254.4 264.1,254.2 C264.0,253.9 263.3,254.0 263.2,253.7 C263.1,253.3 263.7,252.9 263.5,252.4 C263.3,252.0 262.4,251.6 262.3,251.2 C262.2,250.8 262.6,250.5 262.9,250.2 C263.2,249.9 263.9,249.8 264.1,249.5 C264.3,249.2 263.8,248.8 263.9,248.4 C264.0,248.0 264.3,247.6 264.6,247.3 C265.0,247.0 265.2,246.9 265.7,246.7 C266.2,246.5 266.8,246.4 267.4,246.3 C267.9,246.3 268.5,246.3 269.0,246.4 C269.4,246.5 269.7,247.0 270.0,247.0 C270.3,247.0 270.1,246.5 270.6,246.3 C271.1,246.1 272.2,245.8 272.9,245.7 C273.7,245.6 274.3,245.7 274.8,245.8 C275.4,246.0 275.7,246.1 276.2,246.3 C276.6,246.6 277.0,246.9 277.5,247.3 C277.9,247.7 278.1,248.2 278.5,248.6 C278.8,249.1 278.9,249.4 279.3,249.8 C279.7,250.1 280.3,250.1 280.8,250.5 C281.3,250.8 281.4,251.2 282.1,251.7 C282.8,252.1 283.8,252.6 284.5,253.0 C285.3,253.4 285.4,253.7 286.2,254.0 C286.9,254.2 288.0,254.3 288.7,254.6 C289.3,254.8 289.6,255.1 289.8,255.4 C290.0,255.8 289.3,256.1 289.6,256.4 C289.9,256.7 290.8,256.8 291.4,257.1 C292.0,257.5 292.4,257.8 292.8,258.2 C293.2,258.6 293.7,259.0 293.6,259.4 C293.6,259.7 292.6,259.8 292.6,260.1 C292.6,260.4 293.6,260.7 293.7,261.0 C293.9,261.3 293.1,261.6 293.4,261.8 C293.8,262.1 295.1,262.0 295.7,262.3 C296.2,262.6 295.9,262.9 296.5,263.4 C297.1,263.9 298.5,264.8 298.9,265.1" fill="none" stroke="#1c1c1c" stroke-width="1.1" stroke-linejoin="round" stroke-linecap="round"/>
<line x1="243.9" y1="265.1" x2="299.2" y2="265.3" stroke="#222" stroke-width="1"/>
<path d="M279.2,262.4 Q280.5,258.1 288.0,255.8 Q284.5,259.4 279.2,262.4 Z" fill="#d0d0d0" stroke="#3a3a3a" stroke-width="0.7" stroke-linejoin="round"/>
<line x1="291.6" y1="259.8" x2="294.0" y2="260.3" stroke="#333" stroke-width="0.8"/>
<line x1="292.4" y1="261.6" x2="295.3" y2="262.2" stroke="#333" stroke-width="0.8"/>
<line x1="290.5" y1="257.9" x2="292.4" y2="258.3" stroke="#333" stroke-width="0.8"/>
<rect x="364.9" y="243.1" width="54.1" height="2.5" fill="#9c9c9c"/>
<path d="M363.7,242.8 C364.3,242.0 365.9,239.3 366.9,238.1 C367.9,237.0 368.5,237.0 369.0,236.4 C369.5,235.9 369.9,235.6 369.9,234.9 C369.9,234.3 369.1,233.6 369.2,232.9 C369.3,232.1 370.2,231.5 370.3,230.9 C370.4,230.2 369.6,229.8 369.7,229.1 C369.8,228.4 370.4,227.7 370.8,227.1 C371.2,226.5 371.5,226.2 372.0,225.9 C372.5,225.5 373.2,225.3 373.8,225.2 C374.4,225.1 375.0,225.2 375.6,225.4 C376.2,225.6 376.8,225.9 377.4,226.4 C378.0,226.9 378.5,227.5 378.8,228.1 C379.1,228.6 379.0,229.0 379.2,229.4 C379.4,229.8 379.4,230.5 379.7,230.4 C380.0,230.3 380.1,229.3 380.6,228.9 C381.1,228.5 382.0,228.6 382.5,228.1 C383.0,227.5 382.9,226.5 383.2,225.9 C383.5,225.2 384.3,225.1 384.3,224.5 C384.3,223.9 383.4,223.0 383.2,222.4 C383.0,221.8 383.5,221.4 383.4,220.9 C383.3,220.5 382.6,220.5 382.5,219.9 C382.4,219.3 383.0,218.3 382.8,217.4 C382.6,216.5 381.7,215.7 381.6,214.9 C381.5,214.1 381.9,213.5 382.2,213.0 C382.5,212.4 383.2,212.3 383.4,211.7 C383.6,211.0 383.1,210.3 383.2,209.5 C383.3,208.7 383.6,207.8 383.9,207.2 C384.2,206.6 384.5,206.3 385.0,206.0 C385.5,205.6 386.0,205.4 386.6,205.3 C387.2,205.2 387.7,205.2 388.2,205.4 C388.7,205.6 388.9,206.6 389.2,206.6 C389.5,206.6 389.3,205.7 389.8,205.2 C390.3,204.7 391.3,204.2 392.1,204.0 C392.9,203.8 393.4,204.1 394.0,204.3 C394.6,204.5 394.8,204.8 395.3,205.3 C395.8,205.8 396.2,206.4 396.6,207.2 C397.0,208.0 397.3,209.0 397.6,209.9 C397.9,210.8 398.0,211.5 398.4,212.2 C398.8,212.8 399.4,212.9 399.9,213.6 C400.4,214.2 400.5,215.0 401.2,215.9 C401.9,216.8 402.9,217.7 403.6,218.5 C404.3,219.3 404.5,219.9 405.2,220.5 C405.9,221.1 407.1,221.2 407.7,221.7 C408.3,222.2 408.6,222.8 408.8,223.5 C409.0,224.2 408.3,224.8 408.6,225.4 C408.9,226.0 409.8,226.2 410.4,226.9 C411.0,227.5 411.4,228.3 411.8,229.1 C412.2,229.9 412.6,230.7 412.6,231.4 C412.6,232.0 411.6,232.3 411.6,232.9 C411.6,233.4 412.6,233.9 412.7,234.5 C412.8,235.2 412.1,235.8 412.4,236.2 C412.7,236.7 414.1,236.7 414.6,237.2 C415.1,237.8 414.8,238.4 415.4,239.4 C416.0,240.4 417.4,242.2 417.8,242.8 Z" fill="#fff" stroke="none"/>
<path d="M363.7,242.8 C364.3,242.0 365.9,239.3 366.9,238.1 C367.9,237.0 368.5,237.0 369.0,236.4 C369.5,235.9 369.9,235.6 369.9,234.9 C369.9,234.3 369.1,233.6 369.2,232.9 C369.3,232.1 370.2,231.5 370.3,230.9 C370.4,230.2 369.6,229.8 369.7,229.1 C369.8,228.4 370.4,227.7 370.8,227.1 C371.2,226.5 371.5,226.2 372.0,225.9 C372.5,225.5 373.2,225.3 373.8,225.2 C374.4,225.1 375.0,225.2 375.6,225.4 C376.2,225.6 376.8,225.9 377.4,226.4 C378.0,226.9 378.5,227.5 378.8,228.1 C379.1,228.6 379.0,229.0 379.2,229.4 C379.4,229.8 379.4,230.5 379.7,230.4 C380.0,230.3 380.1,229.3 380.6,228.9 C381.1,228.5 382.0,228.6 382.5,228.1 C383.0,227.5 382.9,226.5 383.2,225.9 C383.5,225.2 384.3,225.1 384.3,224.5 C384.3,223.9 383.4,223.0 383.2,222.4 C383.0,221.8 383.5,221.4 383.4,220.9 C383.3,220.5 382.6,220.5 382.5,219.9 C382.4,219.3 383.0,218.3 382.8,217.4 C382.6,216.5 381.7,215.7 381.6,214.9 C381.5,214.1 381.9,213.5 382.2,213.0 C382.5,212.4 383.2,212.3 383.4,211.7 C383.6,211.0 383.1,210.3 383.2,209.5 C383.3,208.7 383.6,207.8 383.9,207.2 C384.2,206.6 384.5,206.3 385.0,206.0 C385.5,205.6 386.0,205.4 386.6,205.3 C387.2,205.2 387.7,205.2 388.2,205.4 C388.7,205.6 388.9,206.6 389.2,206.6 C389.5,206.6 389.3,205.7 389.8,205.2 C390.3,204.7 391.3,204.2 392.1,204.0 C392.9,203.8 393.4,204.1 394.0,204.3 C394.6,204.5 394.8,204.8 395.3,205.3 C395.8,205.8 396.2,206.4 396.6,207.2 C397.0,208.0 397.3,209.0 397.6,209.9 C397.9,210.8 398.0,211.5 398.4,212.2 C398.8,212.8 399.4,212.9 399.9,213.6 C400.4,214.2 400.5,215.0 401.2,215.9 C401.9,216.8 402.9,217.7 403.6,218.5 C404.3,219.3 404.5,219.9 405.2,220.5 C405.9,221.1 407.1,221.2 407.7,221.7 C408.3,222.2 408.6,222.8 408.8,223.5 C409.0,224.2 408.3,224.8 408.6,225.4 C408.9,226.0 409.8,226.2 410.4,226.9 C411.0,227.5 411.4,228.3 411.8,229.1 C412.2,229.9 412.6,230.7 412.6,231.4 C412.6,232.0 411.6,232.3 411.6,232.9 C411.6,233.4 412.6,233.9 412.7,234.5 C412.8,235.2 412.1,235.8 412.4,236.2 C412.7,236.7 414.1,236.7 414.6,237.2 C415.1,237.8 414.8,238.4 415.4,239.4 C416.0,240.4 417.4,242.2 417.8,242.8" fill="none" stroke="#1c1c1c" stroke-width="1.1" stroke-linejoin="round" stroke-linecap="round"/>
<line x1="363.4" y1="242.8" x2="418.1" y2="243.0" stroke="#222" stroke-width="1"/>
<path d="M398.3,237.4 Q399.6,228.9 407.0,224.3 Q403.6,231.5 398.3,237.4 Z" fill="#d0d0d0" stroke="#3a3a3a" stroke-width="0.7" stroke-linejoin="round"/>
<line x1="410.6" y1="232.2" x2="413.0" y2="233.1" stroke="#333" stroke-width="0.8"/>
<line x1="411.4" y1="235.8" x2="414.2" y2="237.0" stroke="#333" stroke-width="0.8"/>
<line x1="409.5" y1="228.4" x2="411.4" y2="229.2" stroke="#333" stroke-width="0.8"/>
<rect x="437.6" y="225.3" width="54.9" height="2.5" fill="#9c9c9c"/>
<path d="M436.4,225.0 C437.0,224.3 438.7,221.9 439.6,221.0 C440.6,220.0 441.2,220.0 441.8,219.5 C442.3,219.0 442.7,218.8 442.7,218.2 C442.7,217.6 441.9,217.0 442.0,216.4 C442.1,215.7 443.0,215.3 443.1,214.7 C443.2,214.1 442.4,213.7 442.5,213.1 C442.6,212.5 443.2,211.9 443.6,211.4 C444.0,210.9 444.3,210.6 444.8,210.4 C445.4,210.1 446.0,209.8 446.6,209.8 C447.3,209.7 447.8,209.7 448.5,209.9 C449.1,210.1 449.7,210.4 450.3,210.8 C450.9,211.2 451.4,211.8 451.7,212.2 C452.1,212.7 452.0,213.0 452.1,213.4 C452.3,213.7 452.4,214.3 452.6,214.2 C452.9,214.2 453.0,213.3 453.5,212.9 C454.1,212.6 455.0,212.7 455.5,212.2 C456.0,211.8 455.9,210.9 456.2,210.4 C456.5,209.8 457.3,209.7 457.3,209.1 C457.3,208.6 456.4,207.9 456.2,207.3 C456.0,206.8 456.5,206.4 456.4,206.0 C456.3,205.7 455.6,205.7 455.5,205.2 C455.4,204.6 455.9,203.8 455.8,203.0 C455.6,202.3 454.7,201.6 454.6,200.9 C454.5,200.2 454.8,199.7 455.2,199.2 C455.5,198.6 456.2,198.6 456.4,198.0 C456.6,197.5 456.1,196.8 456.2,196.1 C456.3,195.4 456.6,194.7 456.9,194.2 C457.2,193.6 457.5,193.4 458.0,193.1 C458.5,192.8 459.1,192.6 459.6,192.5 C460.2,192.4 460.8,192.4 461.3,192.6 C461.7,192.8 462.0,193.7 462.3,193.6 C462.6,193.6 462.4,192.8 462.9,192.4 C463.4,192.0 464.5,191.5 465.2,191.4 C466.0,191.3 466.6,191.5 467.1,191.7 C467.7,191.9 468.0,192.1 468.5,192.5 C468.9,193.0 469.4,193.4 469.8,194.2 C470.2,194.9 470.5,195.7 470.8,196.5 C471.1,197.3 471.2,197.9 471.6,198.5 C472.0,199.0 472.6,199.1 473.1,199.7 C473.6,200.3 473.8,201.0 474.5,201.7 C475.1,202.5 476.2,203.3 476.9,204.0 C477.6,204.7 477.8,205.2 478.5,205.7 C479.3,206.2 480.4,206.3 481.1,206.7 C481.7,207.2 482.0,207.7 482.2,208.3 C482.3,208.9 481.7,209.4 482.0,209.9 C482.3,210.5 483.2,210.6 483.8,211.2 C484.4,211.8 484.8,212.4 485.2,213.1 C485.6,213.8 486.1,214.5 486.0,215.1 C486.0,215.7 485.0,215.9 485.0,216.4 C485.0,216.9 486.0,217.3 486.1,217.8 C486.3,218.4 485.5,218.9 485.8,219.3 C486.2,219.7 487.5,219.7 488.1,220.2 C488.6,220.7 488.3,221.2 488.9,222.1 C489.4,222.9 490.9,224.5 491.3,225.0 Z" fill="#fff" stroke="none"/>
<path d="M436.4,225.0 C437.0,224.3 438.7,221.9 439.6,221.0 C440.6,220.0 441.2,220.0 441.8,219.5 C442.3,219.0 442.7,218.8 442.7,218.2 C442.7,217.6 441.9,217.0 442.0,216.4 C442.1,215.7 443.0,215.3 443.1,214.7 C443.2,214.1 442.4,213.7 442.5,213.1 C442.6,212.5 443.2,211.9 443.6,211.4 C444.0,210.9 444.3,210.6 444.8,210.4 C445.4,210.1 446.0,209.8 446.6,209.8 C447.3,209.7 447.8,209.7 448.5,209.9 C449.1,210.1 449.7,210.4 450.3,210.8 C450.9,211.2 451.4,211.8 451.7,212.2 C452.1,212.7 452.0,213.0 452.1,213.4 C452.3,213.7 452.4,214.3 452.6,214.2 C452.9,214.2 453.0,213.3 453.5,212.9 C454.1,212.6 455.0,212.7 455.5,212.2 C456.0,211.8 455.9,210.9 456.2,210.4 C456.5,209.8 457.3,209.7 457.3,209.1 C457.3,208.6 456.4,207.9 456.2,207.3 C456.0,206.8 456.5,206.4 456.4,206.0 C456.3,205.7 455.6,205.7 455.5,205.2 C455.4,204.6 455.9,203.8 455.8,203.0 C455.6,202.3 454.7,201.6 454.6,200.9 C454.5,200.2 454.8,199.7 455.2,199.2 C455.5,198.6 456.2,198.6 456.4,198.0 C456.6,197.5 456.1,196.8 456.2,196.1 C456.3,195.4 456.6,194.7 456.9,194.2 C457.2,193.6 457.5,193.4 458.0,193.1 C458.5,192.8 459.1,192.6 459.6,192.5 C460.2,192.4 460.8,192.4 461.3,192.6 C461.7,192.8 462.0,193.7 462.3,193.6 C462.6,193.6 462.4,192.8 462.9,192.4 C463.4,192.0 464.5,191.5 465.2,191.4 C466.0,191.3 466.6,191.5 467.1,191.7 C467.7,191.9 468.0,192.1 468.5,192.5 C468.9,193.0 469.4,193.4 469.8,194.2 C470.2,194.9 470.5,195.7 470.8,196.5 C471.1,197.3 471.2,197.9 471.6,198.5 C472.0,199.0 472.6,199.1 473.1,199.7 C473.6,200.3 473.8,201.0 474.5,201.7 C475.1,202.5 476.2,203.3 476.9,204.0 C477.6,204.7 477.8,205.2 478.5,205.7 C479.3,206.2 480.4,206.3 481.1,206.7 C481.7,207.2 482.0,207.7 482.2,208.3 C482.3,208.9 481.7,209.4 482.0,209.9 C482.3,210.5 483.2,210.6 483.8,211.2 C484.4,211.8 484.8,212.4 485.2,213.1 C485.6,213.8 486.1,214.5 486.0,215.1 C486.0,215.7 485.0,215.9 485.0,216.4 C485.0,216.9 486.0,217.3 486.1,217.8 C486.3,218.4 485.5,218.9 485.8,219.3 C486.2,219.7 487.5,219.7 488.1,220.2 C488.6,220.7 488.3,221.2 488.9,222.1 C489.4,222.9 490.9,224.5 491.3,225.0" fill="none" stroke="#1c1c1c" stroke-width="1.1" stroke-linejoin="round" stroke-linecap="round"/>
<line x1="436.1" y1="225.0" x2="491.6" y2="225.2" stroke="#222" stroke-width="1"/>
<path d="M471.5,220.3 Q472.8,212.9 480.3,209.0 Q476.9,215.2 471.5,220.3 Z" fill="#d0d0d0" stroke="#3a3a3a" stroke-width="0.7" stroke-linejoin="round"/>
<line x1="484.0" y1="215.8" x2="486.4" y2="216.6" stroke="#333" stroke-width="0.8"/>
<line x1="484.8" y1="219.0" x2="487.6" y2="220.0" stroke="#333" stroke-width="0.8"/>
<line x1="482.9" y1="212.5" x2="484.8" y2="213.2" stroke="#333" stroke-width="0.8"/>
<rect x="505.4" y="228.3" width="53.7" height="2.5" fill="#9c9c9c"/>
<path d="M504.2,228.0 C504.8,227.5 506.4,225.8 507.4,225.0 C508.3,224.3 508.9,224.3 509.5,223.9 C510.0,223.6 510.3,223.4 510.4,223.0 C510.4,222.6 509.6,222.1 509.7,221.7 C509.7,221.2 510.7,220.8 510.8,220.4 C510.8,220.0 510.1,219.7 510.2,219.3 C510.2,218.8 510.8,218.4 511.2,218.0 C511.7,217.6 511.9,217.4 512.4,217.2 C513.0,217.0 513.6,216.8 514.2,216.8 C514.9,216.7 515.4,216.8 516.0,216.9 C516.7,217.1 517.2,217.2 517.8,217.6 C518.4,217.9 518.9,218.3 519.2,218.6 C519.5,219.0 519.4,219.2 519.6,219.5 C519.7,219.7 519.8,220.1 520.1,220.1 C520.3,220.0 520.5,219.4 521.0,219.1 C521.5,218.9 522.4,219.0 522.9,218.6 C523.3,218.3 523.2,217.6 523.6,217.2 C523.9,216.8 524.6,216.7 524.6,216.3 C524.6,215.9 523.7,215.4 523.6,215.0 C523.4,214.6 523.9,214.4 523.8,214.1 C523.6,213.8 523.0,213.8 522.9,213.4 C522.8,213.0 523.3,212.4 523.2,211.9 C523.0,211.3 522.1,210.8 522.0,210.3 C521.9,209.8 522.2,209.4 522.6,209.0 C522.9,208.6 523.6,208.6 523.8,208.2 C523.9,207.8 523.5,207.3 523.6,206.8 C523.6,206.3 523.9,205.7 524.3,205.3 C524.6,204.9 524.9,204.8 525.3,204.6 C525.8,204.4 526.4,204.2 526.9,204.1 C527.5,204.1 528.1,204.0 528.5,204.2 C529.0,204.3 529.2,205.0 529.5,204.9 C529.8,204.9 529.6,204.4 530.1,204.1 C530.6,203.8 531.6,203.4 532.4,203.3 C533.1,203.2 533.7,203.3 534.3,203.5 C534.8,203.6 535.1,203.8 535.6,204.1 C536.0,204.5 536.4,204.8 536.9,205.3 C537.3,205.9 537.5,206.5 537.8,207.0 C538.2,207.6 538.2,208.1 538.6,208.5 C539.1,208.9 539.6,208.9 540.1,209.4 C540.6,209.8 540.8,210.3 541.4,210.9 C542.1,211.5 543.1,212.0 543.8,212.5 C544.5,213.1 544.7,213.4 545.4,213.8 C546.1,214.2 547.2,214.2 547.9,214.6 C548.5,214.9 548.8,215.3 549.0,215.7 C549.1,216.1 548.5,216.5 548.8,216.9 C549.1,217.3 550.0,217.4 550.6,217.9 C551.1,218.3 551.6,218.7 551.9,219.3 C552.3,219.8 552.8,220.3 552.7,220.7 C552.7,221.1 551.7,221.3 551.7,221.7 C551.8,222.0 552.7,222.4 552.8,222.7 C553.0,223.1 552.2,223.5 552.5,223.8 C552.9,224.1 554.2,224.1 554.7,224.5 C555.3,224.8 554.9,225.2 555.5,225.8 C556.1,226.5 557.5,227.6 557.9,228.0 Z" fill="#fff" stroke="none"/>
<path d="M504.2,228.0 C504.8,227.5 506.4,225.8 507.4,225.0 C508.3,224.3 508.9,224.3 509.5,223.9 C510.0,223.6 510.3,223.4 510.4,223.0 C510.4,222.6 509.6,222.1 509.7,221.7 C509.7,221.2 510.7,220.8 510.8,220.4 C510.8,220.0 510.1,219.7 510.2,219.3 C510.2,218.8 510.8,218.4 511.2,218.0 C511.7,217.6 511.9,217.4 512.4,217.2 C513.0,217.0 513.6,216.8 514.2,216.8 C514.9,216.7 515.4,216.8 516.0,216.9 C516.7,217.1 517.2,217.2 517.8,217.6 C518.4,217.9 518.9,218.3 519.2,218.6 C519.5,219.0 519.4,219.2 519.6,219.5 C519.7,219.7 519.8,220.1 520.1,220.1 C520.3,220.0 520.5,219.4 521.0,219.1 C521.5,218.9 522.4,219.0 522.9,218.6 C523.3,218.3 523.2,217.6 523.6,217.2 C523.9,216.8 524.6,216.7 524.6,216.3 C524.6,215.9 523.7,215.4 523.6,215.0 C523.4,214.6 523.9,214.4 523.8,214.1 C523.6,213.8 523.0,213.8 522.9,213.4 C522.8,213.0 523.3,212.4 523.2,211.9 C523.0,211.3 522.1,210.8 522.0,210.3 C521.9,209.8 522.2,209.4 522.6,209.0 C522.9,208.6 523.6,208.6 523.8,208.2 C523.9,207.8 523.5,207.3 523.6,206.8 C523.6,206.3 523.9,205.7 524.3,205.3 C524.6,204.9 524.9,204.8 525.3,204.6 C525.8,204.4 526.4,204.2 526.9,204.1 C527.5,204.1 528.1,204.0 528.5,204.2 C529.0,204.3 529.2,205.0 529.5,204.9 C529.8,204.9 529.6,204.4 530.1,204.1 C530.6,203.8 531.6,203.4 532.4,203.3 C533.1,203.2 533.7,203.3 534.3,203.5 C534.8,203.6 535.1,203.8 535.6,204.1 C536.0,204.5 536.4,204.8 536.9,205.3 C537.3,205.9 537.5,206.5 537.8,207.0 C538.2,207.6 538.2,208.1 538.6,208.5 C539.1,208.9 539.6,208.9 540.1,209.4 C540.6,209.8 540.8,210.3 541.4,210.9 C542.1,211.5 543.1,212.0 543.8,212.5 C544.5,213.1 544.7,213.4 545.4,213.8 C546.1,214.2 547.2,214.2 547.9,214.6 C548.5,214.9 548.8,215.3 549.0,215.7 C549.1,216.1 548.5,216.5 548.8,216.9 C549.1,217.3 550.0,217.4 550.6,217.9 C551.1,218.3 551.6,218.7 551.9,219.3 C552.3,219.8 552.8,220.3 552.7,220.7 C552.7,221.1 551.7,221.3 551.7,221.7 C551.8,222.0 552.7,222.4 552.8,222.7 C553.0,223.1 552.2,223.5 552.5,223.8 C552.9,224.1 554.2,224.1 554.7,224.5 C555.3,224.8 554.9,225.2 555.5,225.8 C556.1,226.5 557.5,227.6 557.9,228.0" fill="none" stroke="#1c1c1c" stroke-width="1.1" stroke-linejoin="round" stroke-linecap="round"/>
<line x1="503.9" y1="228.0" x2="558.2" y2="228.2" stroke="#222" stroke-width="1"/>
<path d="M538.5,224.6 Q539.8,219.1 547.2,216.2 Q543.8,220.8 538.5,224.6 Z" fill="#d0d0d0" stroke="#3a3a3a" stroke-width="0.7" stroke-linejoin="round"/>
<line x1="550.8" y1="221.2" x2="553.1" y2="221.9" stroke="#333" stroke-width="0.8"/>
<line x1="551.5" y1="223.6" x2="554.3" y2="224.3" stroke="#333" stroke-width="0.8"/>
<line x1="549.7" y1="218.8" x2="551.5" y2="219.3" stroke="#333" stroke-width="0.8"/>
<rect x="184.8" y="286.2" width="54" height="1.5" fill="#a6a6a6"/>
<path d="M183.7,285.4 C184.3,285.2 185.5,284.6 186.5,284.2 C187.5,283.8 188.1,283.6 188.8,283.2 C189.5,282.8 189.5,282.5 190.0,282.2 C190.5,281.9 190.6,281.7 191.2,281.5 C191.8,281.3 192.2,281.2 193.0,281.3 C193.8,281.4 194.3,281.7 195.2,281.9 C196.1,282.1 196.7,282.2 197.6,282.2 C198.5,282.2 199.0,282.0 199.6,281.7 C200.2,281.4 200.6,281.3 200.8,280.9 C201.0,280.5 200.4,280.2 200.6,279.9 C200.8,279.6 201.4,279.5 201.6,279.2 C201.8,278.9 201.6,278.6 201.8,278.2 C202.0,277.8 202.3,277.6 202.8,277.3 C203.3,277.0 203.7,276.7 204.3,276.6 C204.9,276.5 205.3,276.8 206.0,276.9 C206.7,277.0 207.1,277.3 207.9,277.2 C208.7,277.1 208.9,276.7 209.8,276.4 C210.7,276.1 211.5,276.0 212.5,275.9 C213.5,275.8 213.8,275.9 214.6,276.1 C215.4,276.3 215.5,276.4 216.3,276.8 C217.1,277.2 217.6,277.5 218.8,278.0 C220.0,278.5 220.9,278.6 222.5,279.1 C224.1,279.6 225.5,279.9 227.0,280.4 C228.5,280.9 228.9,281.3 230.0,281.8 C231.1,282.3 231.4,282.5 232.5,283.0 C233.6,283.5 234.3,283.9 235.5,284.5 C236.7,285.1 237.8,285.7 238.4,286.0 Z" fill="#fff" stroke="none"/>
<path d="M183.7,285.4 C184.3,285.2 185.5,284.6 186.5,284.2 C187.5,283.8 188.1,283.6 188.8,283.2 C189.5,282.8 189.5,282.5 190.0,282.2 C190.5,281.9 190.6,281.7 191.2,281.5 C191.8,281.3 192.2,281.2 193.0,281.3 C193.8,281.4 194.3,281.7 195.2,281.9 C196.1,282.1 196.7,282.2 197.6,282.2 C198.5,282.2 199.0,282.0 199.6,281.7 C200.2,281.4 200.6,281.3 200.8,280.9 C201.0,280.5 200.4,280.2 200.6,279.9 C200.8,279.6 201.4,279.5 201.6,279.2 C201.8,278.9 201.6,278.6 201.8,278.2 C202.0,277.8 202.3,277.6 202.8,277.3 C203.3,277.0 203.7,276.7 204.3,276.6 C204.9,276.5 205.3,276.8 206.0,276.9 C206.7,277.0 207.1,277.3 207.9,277.2 C208.7,277.1 208.9,276.7 209.8,276.4 C210.7,276.1 211.5,276.0 212.5,275.9 C213.5,275.8 213.8,275.9 214.6,276.1 C215.4,276.3 215.5,276.4 216.3,276.8 C217.1,277.2 217.6,277.5 218.8,278.0 C220.0,278.5 220.9,278.6 222.5,279.1 C224.1,279.6 225.5,279.9 227.0,280.4 C228.5,280.9 228.9,281.3 230.0,281.8 C231.1,282.3 231.4,282.5 232.5,283.0 C233.6,283.5 234.3,283.9 235.5,284.5 C236.7,285.1 237.8,285.7 238.4,286.0" fill="none" stroke="#1c1c1c" stroke-width="1.1" stroke-linejoin="round" stroke-linecap="round"/>
<line x1="183.4" y1="285.5" x2="238.7" y2="286" stroke="#1a1a1a" stroke-width="1.3"/>
<path d="M217.8,285 L221.5,283 L225.4,281.6" fill="none" stroke="#222" stroke-width="1.1"/>
<path d="M269.6,264.4 L295.35,281.3 L288.4,281.3 L288.4,298.7 L250.1,298.7 L250.1,281.3 L243.85000000000002,281.3 Z" fill="#9a9a9a" stroke="#9a9a9a" stroke-width="1.2" transform="translate(4.6,5.6)"/>
<path d="M269.6,264.4 L295.35,281.3 L288.4,281.3 L288.4,298.7 L250.1,298.7 L250.1,281.3 L243.85000000000002,281.3 Z" fill="#fff" stroke="#000" stroke-width="2.5" stroke-linejoin="miter"/>
<path d="M385.9,246.2 L411.15,262.3 L404.5,262.3 L404.5,280.4 L367.2,280.4 L367.2,262.3 L360.65,262.3 Z" fill="#9a9a9a" stroke="#9a9a9a" stroke-width="1.2" transform="translate(4.6,5.6)"/>
<path d="M385.9,246.2 L411.15,262.3 L404.5,262.3 L404.5,280.4 L367.2,280.4 L367.2,262.3 L360.65,262.3 Z" fill="#fff" stroke="#000" stroke-width="2.5" stroke-linejoin="miter"/>
<path d="M459,227.8 L484.25,244.1 L477.7,244.1 L477.7,261.9 L440.3,261.9 L440.3,244.1 L433.75,244.1 Z" fill="#9a9a9a" stroke="#9a9a9a" stroke-width="1.2" transform="translate(4.6,5.6)"/>
<path d="M459,227.8 L484.25,244.1 L477.7,244.1 L477.7,261.9 L440.3,261.9 L440.3,244.1 L433.75,244.1 Z" fill="#fff" stroke="#000" stroke-width="2.5" stroke-linejoin="miter"/>
<path d="M523.4,228 L548.65,244.1 L542.7,244.1 L542.7,261.9 L505.3,261.9 L505.3,244.1 L498.15,244.1 Z" fill="#9a9a9a" stroke="#9a9a9a" stroke-width="1.2" transform="translate(4.6,5.6)"/>
<path d="M523.4,228 L548.65,244.1 L542.7,244.1 L542.7,261.9 L505.3,261.9 L505.3,244.1 L498.15,244.1 Z" fill="#fff" stroke="#000" stroke-width="2.5" stroke-linejoin="miter"/>
<path d="M53,346.9 L78.3,363.6 L71.4,363.6 L71.4,381 L34.5,381 L34.5,363.6 L27.7,363.6 Z" fill="#9a9a9a" stroke="#9a9a9a" stroke-width="1.2" transform="translate(4.8,5.0)"/>
<path d="M53,346.9 L78.3,363.6 L71.4,363.6 L71.4,381 L34.5,381 L34.5,363.6 L27.7,363.6 Z" fill="#fff" stroke="#000" stroke-width="2.4" stroke-linejoin="miter"/>
<text x="288.5" y="122.0" font-size="12.9" text-anchor="start" class="s">4 OCNL 6 CI</text>
<text x="637" y="120.8" font-size="16.3" text-anchor="start" class="s">0 C AT <tspan x="693.6" font-size="17.2">10000</tspan><tspan x="738.6">FT</tspan></text>
<text x="369" y="157.9" font-size="12.8" text-anchor="start" class="s">PATCHY 3 AC</text>
<text transform="translate(270.8,293.3) scale(1,1.09)" font-size="13" text-anchor="middle" class="s">1KT</text>
<text transform="translate(270.9,318.4) scale(1,1.05)" font-size="13" text-anchor="middle" class="s">2 CU</text>
<text transform="translate(384.4,274.9) scale(1,1.09)" font-size="13" text-anchor="middle" class="s">2KT</text>
<text transform="translate(387,298.2) scale(1,1.05)" font-size="13" text-anchor="middle" class="s">2 CU</text>
<text transform="translate(452.8,256.3) scale(1,1.09)" font-size="13" text-anchor="middle" class="s">2KT</text>
<text transform="translate(454.5,280.9) scale(1,1.05)" font-size="13" text-anchor="middle" class="s">1-2 CU</text>
<text transform="translate(523,255.9) scale(1,1.09)" font-size="13" text-anchor="middle" class="s">1KT</text>
<text transform="translate(522.6,279.6) scale(1,1.05)" font-size="13" text-anchor="middle" class="s">1 CU</text>
<text transform="translate(59.8,375.4) scale(1,1.04)" font-size="13" text-anchor="middle" class="s">KT</text>
<text x="59" y="343.5" font-size="12.7" text-anchor="middle" class="s">Thermals</text>
<text x="78" y="109.9" font-size="18.4" text-anchor="end" class="s">10000</text>
<text x="79.5" y="162.5" font-size="18.4" text-anchor="end" class="s">7000</text>
<text x="78.6" y="220.5" font-size="18.4" text-anchor="end" class="s">5000</text>
<text x="78.6" y="276" font-size="18.4" text-anchor="end" class="s">3000</text>
<text x="78.6" y="324.1" font-size="18.4" text-anchor="end" class="s">2000</text>
<text x="178.8" y="38" font-size="21.6" class="t">EGC</text>
<text x="256" y="38" font-size="21.6" class="t">DAY 13</text>
<text x="412.2" y="38" font-size="21.6" class="t">LASHAM</text>
<text x="571" y="41" font-size="21.35" class="t">25 AUGUST 2017</text>
<text transform="translate(11.3,61.8) scale(1,1.035)" font-size="15.05" text-anchor="start" class="s">General Situation: weak ridge of high pressure with very light winds. Large amounts of CI at times streaming from</text>
<text transform="translate(15,80.6) scale(1,1.035)" font-size="15.05" text-anchor="start" class="s">the SW. Tending to go ‘blue’ later, especially in the S. Afternoon dew points 10-11 C.</text>
<line x1="10" y1="47.2" x2="761" y2="47.2" stroke="#000" stroke-width="1.4"/>
<line x1="10" y1="86.3" x2="761" y2="86.3" stroke="#000" stroke-width="1.4"/>
<line x1="96.25" y1="86" x2="96.25" y2="561" stroke="#000" stroke-width="1.5"/>
<line x1="13" y1="391.2" x2="761" y2="391.2" stroke="#000" stroke-width="1.4"/>
<line x1="146.25" y1="380" x2="146.25" y2="394.4" stroke="#000" stroke-width="1.3"/>
<line x1="201.25" y1="380" x2="201.25" y2="394.4" stroke="#000" stroke-width="1.3"/>
<line x1="256.25" y1="380" x2="256.25" y2="394.4" stroke="#000" stroke-width="1.3"/>
<line x1="313.4" y1="380" x2="313.4" y2="394.4" stroke="#000" stroke-width="1.3"/>
<line x1="371.9" y1="380" x2="371.9" y2="394.4" stroke="#000" stroke-width="1.3"/>
<line x1="428.1" y1="380" x2="428.1" y2="394.4" stroke="#000" stroke-width="1.3"/>
<line x1="485.3" y1="380" x2="485.3" y2="394.4" stroke="#000" stroke-width="1.3"/>
<line x1="544.6" y1="380" x2="544.6" y2="394.4" stroke="#000" stroke-width="1.3"/>
<line x1="607.4" y1="380" x2="607.4" y2="394.4" stroke="#000" stroke-width="1.3"/>
<line x1="670.8" y1="380" x2="670.8" y2="394.4" stroke="#000" stroke-width="1.3"/>
<line x1="733.6" y1="380" x2="733.6" y2="394.4" stroke="#000" stroke-width="1.3"/>
<text x="14.3" y="415.4" font-size="17" text-anchor="start" class="s">Time local</text>
<text x="150" y="417.8" font-size="17" text-anchor="middle" class="s">10</text>
<text x="254.5" y="414.7" font-size="17" text-anchor="middle" class="s">12</text>
<text x="372.5" y="417.5" font-size="17" text-anchor="middle" class="s">14</text>
<text x="491.2" y="417.5" font-size="17" text-anchor="middle" class="s">16</text>
<text x="609.5" y="416.9" font-size="17" text-anchor="middle" class="s">18</text>
<text x="735" y="416.3" font-size="17" text-anchor="middle" class="s">20</text>
<line x1="10" y1="426.4" x2="760" y2="426.4" stroke="#000" stroke-width="1.4"/>
<line x1="10" y1="453.2" x2="761" y2="453.2" stroke="#000" stroke-width="1.4"/>
<text transform="translate(51.6,447.8) scale(1,1.05)" font-size="12.8" text-anchor="middle" class="s">Visibility</text>
<text transform="translate(103.3,445) scale(1,1.04)" font-size="12.9" text-anchor="start" class="s">25 KM</text>
<text transform="translate(259,445) scale(1,1.04)" font-size="12.9" text-anchor="start" class="s">30 KM</text>
<text transform="translate(414.2,445) scale(1,1.04)" font-size="12.9" text-anchor="start" class="s">30 KM</text>
<text transform="translate(569.5,445) scale(1,1.04)" font-size="12.9" text-anchor="start" class="s">30 KM</text>
<line x1="44.5" y1="477.6" x2="761" y2="477.6" stroke="#000" stroke-width="1.4"/>
<line x1="38.7" y1="502.4" x2="761" y2="502.4" stroke="#000" stroke-width="1.4"/>
<line x1="10" y1="520.4" x2="761" y2="520.4" stroke="#000" stroke-width="1.4"/>
<line x1="11.5" y1="538.4" x2="760" y2="538.4" stroke="#000" stroke-width="1.4"/>
<line x1="13" y1="562.6" x2="762" y2="562.6" stroke="#000" stroke-width="2.6"/>
<line x1="37.3" y1="456" x2="37.3" y2="542" stroke="#222" stroke-width="1.2"/>
<line x1="628" y1="539" x2="628" y2="562" stroke="#000" stroke-width="1.3"/>
<text transform="translate(22.2,473.1) scale(1,1.06)" font-size="14.8" text-anchor="middle" class="s">W</text>
<text transform="translate(20.6,494.6) scale(1,1.06)" font-size="14.8" text-anchor="middle" class="s">I</text>
<text transform="translate(22.3,516.7) scale(1,1.06)" font-size="14.8" text-anchor="middle" class="s">N</text>
<text transform="translate(22,537.7) scale(1,1.06)" font-size="14.8" text-anchor="middle" class="s">D</text>
<text transform="translate(64.3,474) scale(1,1.05)" font-size="12.8" text-anchor="middle" class="s">10000</text>
<text transform="translate(67.1,494.6) scale(1,1.05)" font-size="12.8" text-anchor="middle" class="s">5000</text>
<text transform="translate(67.1,516.2) scale(1,1.05)" font-size="12.8" text-anchor="middle" class="s">2000</text>
<text transform="translate(67.4,536.2) scale(1,1.05)" font-size="12.8" text-anchor="middle" class="s">Surface</text>
<text transform="translate(56.6,557.8) scale(1,1.05)" font-size="12.8" text-anchor="middle" class="s">Warnings</text>
<text transform="translate(377.5,475.2) scale(1,1.04)" font-size="12.9" text-anchor="start" class="s">260 12</text>
<text transform="translate(377.5,493.9) scale(1,1.04)" font-size="12.9" text-anchor="start" class="s" xml:space="preserve">VRB MAINLY  240 05</text>
<text transform="translate(377.5,518.2) scale(1,1.04)" font-size="12.9" text-anchor="start" class="s" xml:space="preserve">VRB MAINLY  220 05</text>
<text transform="translate(377.5,536.1) scale(1,1.04)" font-size="12.9" text-anchor="start" class="s" xml:space="preserve">VRB MAINLY  190-240  03-08</text>
<text transform="translate(373.8,554) scale(1,1.04)" font-size="12.8" text-anchor="start" class="s">NIL</text>
<text transform="translate(630.5,554.7) scale(1,1.04)" font-size="12.8" text-anchor="start" class="s">MAX TEMP: 22 C</text>
<text transform="translate(11.5,578.7) scale(1,1.04)" font-size="12.8" text-anchor="start" class="s">Heights AGL in feet</text>
<text transform="translate(157.3,578.7) scale(1,1.04)" font-size="12.8" text-anchor="start" class="s">Clouds in OKTAs</text>
<text transform="translate(312.6,578.4) scale(1,1.04)" font-size="13" text-anchor="start" class="s">Forecaster Hugh Brookes</text>
<text transform="translate(600,579.7) scale(1,1.04)" font-size="12.8" text-anchor="start" class="s">Time of issue:-0930</text>
<rect x="5" y="3.3" width="2.6" height="578.4" fill="#000"/>
<rect x="7.6" y="5.8" width="1.2" height="575.8" fill="#5a5a5a"/>
<rect x="8.8" y="5.8" width="1.2" height="575.8" fill="#9a9a9a"/>
<rect x="5" y="3.3" width="759.6" height="2.5" fill="#000"/>
<rect x="765.7" y="3.4" width="2.3" height="581.8" fill="#000"/>
<rect x="761.2" y="19" width="2.6" height="566" fill="#000"/>
<rect x="763.8" y="19" width="1.9" height="566" fill="#8e8e8e"/>
<rect x="0" y="586" width="768" height="1.2" fill="#cbcfd6"/>
<rect x="12" y="584" width="756" height="1" fill="#8c8f94"/>
<rect x="12" y="585" width="756" height="1" fill="#a9adb3"/>
<rect x="12" y="582.9" width="756" height="1.0" fill="#262626"/>
</svg>
</body></html>
